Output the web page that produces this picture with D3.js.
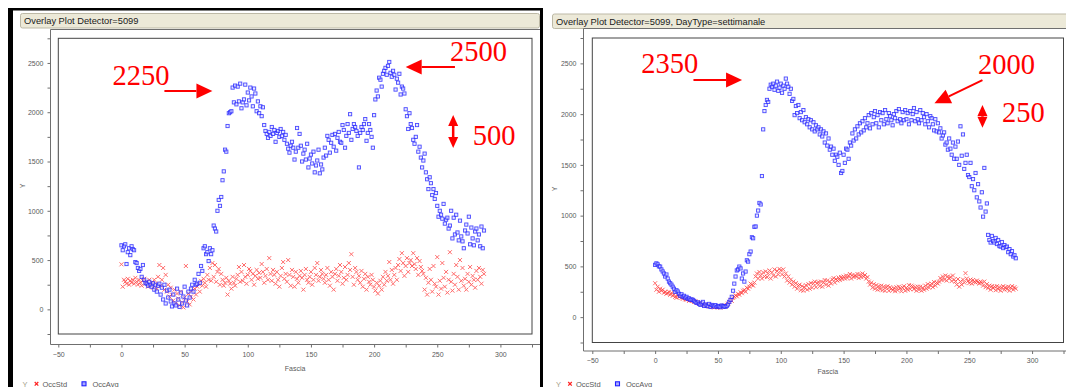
<!DOCTYPE html>
<html>
<head>
<meta charset="utf-8">
<script src="https://cdn.jsdelivr.net/npm/d3@7"></script>
<style>
  body { margin: 0; background: #fff; }
  svg { display: block; }
  text { font-family: "Liberation Sans", Arial, sans-serif; }
  text.note { font-family: "Liberation Serif", "Times New Roman", serif; }
</style>
</head>
<body>
<svg id="chart" width="1066" height="387"></svg>
<script>
// Fascia index (5-minute slots of the day)
const fascia = d3.range(288);

// Detector 5099, all days
const leftOccAvg = [
  650, 600, 640, 660, 460, 580, 620, 550, 640, 610,
  600, 480, 470, 420, 390, 410, 330, 450, 300, 270,
  260, 240, 280, 250, 230, 265, 200, 250, 180, 240,
  260, 150, 220, 100, 250, 60, 190, 120, 200, 80,
  30, 150, 60, 40, 210, 100, 25, 170, 60, 130,
  230, 90, 40, 180, 120, 210, 250, 180, 300, 250,
  260, 360, 270, 440, 390, 620, 640, 560, 580, 490,
  620, 560, 600, 850, 820, 790, 1000, 1110, 1050, 1140,
  1310, 1400, 1620, 1600, 1860, 1990, 2000, 2010, 2250, 2100,
  2270, 2080, 2260, 2110, 2290, 2040, 2100, 2130, 2280, 2070,
  2200, 2120, 2250, 2160, 2060, 2240, 2190, 2010, 2110, 1990,
  2060, 1960, 2050, 1870, 1810, 1780, 1740, 1800, 1760, 1850,
  1780, 1820, 1700, 1790, 1810, 1750, 1830, 1760, 1800, 1720,
  1770, 1680, 1630, 1590, 1660, 1700, 1640, 1520, 1600, 1840,
  1640, 1780, 1660, 1500, 1580, 1620, 1520, 1680, 1440, 1530,
  1570, 1480, 1600, 1390, 1460, 1510, 1620, 1380, 1470, 1420,
  1540, 1640, 1560, 1760, 1720, 1590, 1690, 1770, 1650, 1780,
  1610, 1740, 1800, 1700, 1690, 1870, 1820, 1640, 1760, 1880,
  1790, 1980, 1720, 1830, 1880, 1850, 1810, 1760, 1440, 1790,
  1850, 1820, 1880, 1930, 1710, 1790, 1880, 1820, 1750, 1640,
  1970, 2130, 2220, 2160, 2350, 2330, 2260, 2390, 2420, 2450,
  2380, 2470, 2510, 2400, 2360, 2420, 2380, 2230, 2340, 2300,
  2390, 2180, 2260, 2240, 2190, 2030, 1960, 1830, 1990, 1880,
  1840, 1720, 1680, 1750, 1870, 1600, 1650, 1540, 1440, 1510,
  1580, 1390, 1320, 1220, 1340, 1280, 1160, 1220, 1120, 1180,
  1050, 940, 1000, 960, 920, 1070, 870, 910, 930, 820,
  850, 1000, 720, 930, 760, 960, 780, 700, 900, 740,
  690, 620, 800, 860, 770, 940, 660, 830, 720, 650,
  790, 820, 700, 760, 640, 840, 620, 800
];
const leftOccStd = [
  457, 230, 300, 280, 260, 310, 250, 290, 270, 300,
  260, 320, 280, 250, 300, 270, 240, 290, 310, 260,
  280, 230, 300, 250, 270, 220, 300, 260, 210, 330,
  450, 240, 300, 420, 200, 350, 180, 250, 130, 220,
  150, 90, 200, 60, 160, 110, 40, 180, 70, 20,
  120, 440, 80, 160, 50, 130, 190, 100, 210, 150,
  230, 260, 180, 290, 240, 310, 270, 230, 350, 300,
  420, 290, 470, 330, 450, 280, 380, 410, 250, 360,
  300, 240, 270, 320, 150, 290, 260, 210, 330, 270,
  240, 310, 350, 430, 280, 380, 290, 450, 330, 260,
  350, 410, 390, 300, 360, 250, 340, 400, 310, 370,
  320, 460, 380, 270, 340, 410, 300, 520, 360, 290,
  400, 350, 260, 380, 300, 230, 340, 420, 480, 310,
  360, 280, 500, 350, 240, 400, 330, 230, 380, 310,
  270, 340, 390, 320, 200, 350, 410, 300, 270, 330,
  380, 250, 300, 420, 350, 470, 290, 330, 400, 360,
  310, 270, 350, 420, 300, 240, 380, 330, 200, 360,
  410, 290, 340, 450, 380, 260, 320, 430, 300, 350,
  470, 400, 560, 330, 250, 420, 380, 300, 340, 270,
  390, 230, 310, 360, 200, 330, 280, 250, 350, 300,
  230, 190, 270, 160, 240, 290, 200, 330, 250, 380,
  290, 340, 480, 300, 400, 260, 350, 420, 300, 450,
  510, 390, 570, 470, 340, 440, 520, 380, 470, 500,
  440, 570, 460, 410, 520, 350, 490, 430, 390, 360,
  200, 320, 150, 270, 410, 300, 180, 440, 260, 230,
  530, 150, 290, 210, 470, 320, 230, 380, 170, 300,
  580, 280, 190, 360, 250, 450, 330, 200, 500, 290,
  420, 240, 310, 200, 360, 280, 430, 250, 340, 300,
  220, 390, 300, 420, 330, 260, 400, 360
];

// Detector 5099, DayType=settimanale
const rightOccAvg = [
  515, 530, 520, 500, 498, 470, 450, 430, 400, 420,
  380, 350, 334, 320, 300, 280, 250, 265, 252, 230,
  210, 225, 200, 210, 190, 200, 180, 185, 170, 175,
  170, 160, 150, 140, 145, 130, 120, 135, 150, 110,
  125, 115, 108, 130, 100, 120, 112, 105, 118, 100,
  110, 104, 98, 115, 108, 104, 102, 110, 125, 150,
  170, 200, 260, 330, 400, 460, 470, 498, 480, 380,
  430, 350, 449, 560, 547, 620, 646, 787, 777, 890,
  893, 1000, 1050, 1125, 1110, 1390, 1850, 2030, 2090, 2140,
  2120, 2250, 2290, 2270, 2300, 2240, 2280, 2320, 2230, 2260,
  2300, 2210, 2280, 2250, 2350, 2300, 2270, 2200, 2250, 2130,
  2150, 1990, 2080, 2010, 2090, 1960, 2020, 1940, 2040, 1920,
  1970, 1900, 1950, 1870, 1940, 1850, 1920, 1830, 1890, 1850,
  1870, 1800, 1850, 1780, 1830, 1720, 1810, 1690, 1760, 1650,
  1680, 1600, 1660, 1540, 1600, 1580, 1500, 1620, 1420, 1440,
  1600, 1520, 1660, 1650, 1560, 1720, 1690, 1810, 1740, 1850,
  1760, 1880, 1800, 1910, 1820, 1930, 1840, 1960, 1870, 1910,
  1990, 1860, 2010, 1900, 1970, 2030, 1910, 1990, 1870, 2020,
  1940, 2010, 1900, 2040, 1950, 1910, 2010, 1980, 1940, 1890,
  2000, 1960, 2030, 1930, 2050, 1950, 1910, 2020, 1940, 2040,
  1950, 2010, 1900, 2030, 1940, 2000, 2060, 1930, 2020, 1950,
  1910, 2040, 1940, 2010, 1970, 1900, 2000, 1930, 1870, 1980,
  1960, 1900, 1840, 1950, 1830, 1910, 1820, 1860, 1760, 1790,
  1820, 1700, 1720, 1650, 1760, 1660, 1600, 1720, 1560, 1680,
  1560, 1730, 1500, 1880, 1590, 1800, 1460, 1520, 1600, 1400,
  1380, 1520, 1290, 1360, 1250, 1420, 1180, 1310, 1140, 1080,
  1230, 990, 1470, 1040, 1120, 810, 760, 735, 800, 750,
  735, 780, 720, 760, 700, 695, 740, 680, 710, 690,
  695, 640, 670, 620, 650, 597, 610, 580
];
const rightOccStd = [
  334, 270, 300, 250, 280, 260, 270, 240, 250, 230,
  236, 250, 220, 240, 210, 225, 200, 190, 215, 200,
  203, 190, 180, 195, 175, 170, 185, 160, 170, 165,
  160, 150, 155, 140, 148, 135, 140, 125, 130, 120,
  125, 110, 118, 104, 112, 100, 108, 95, 104, 100,
  98, 104, 92, 110, 100, 115, 105, 120, 135, 150,
  170, 160, 190, 200, 215, 205, 230, 220, 245, 236,
  260, 269, 250, 290, 280, 300, 330, 320, 310, 340,
  400, 430, 380, 445, 410, 380, 440, 400, 450, 395,
  430, 460, 380, 440, 410, 470, 400, 455, 420, 475,
  460, 420, 470, 400, 430, 360, 400, 340, 370, 320,
  350, 300, 335, 280, 310, 320, 265, 305, 260, 290,
  315, 270, 325, 280, 335, 290, 330, 350, 295, 335,
  345, 305, 350, 300, 340, 365, 320, 360, 310, 350,
  330, 370, 385, 340, 375, 360, 390, 365, 395, 375,
  400, 380, 410, 385, 405, 425, 380, 415, 395, 410,
  400, 425, 385, 420, 395, 430, 400, 415, 380, 395,
  350, 320, 340, 290, 325, 280, 315, 270, 305, 275,
  310, 265, 300, 260, 295, 305, 260, 295, 280, 265,
  285, 255, 295, 265, 300, 285, 255, 290, 305, 260,
  290, 270, 315, 275, 310, 300, 275, 295, 260, 300,
  270, 300, 260, 290, 270, 310, 280, 325, 290, 315,
  330, 295, 345, 310, 340, 330, 350, 385, 365, 400,
  370, 410, 360, 400, 380, 395, 355, 410, 370, 350,
  320, 375, 300, 350, 320, 370, 340, 433, 380, 355,
  335, 370, 330, 365, 350, 340, 360, 345, 330, 350,
  340, 310, 350, 295, 325, 285, 310, 270, 305, 285,
  300, 265, 305, 275, 295, 260, 290, 305, 270, 295,
  275, 300, 260, 290, 305, 270, 295, 280
];

const xMajorTicks = [-50, 0, 50, 100, 150, 200, 250, 300];
const xMinorTicks = [-25, 25, 75, 125, 175, 225, 275, 325];
const yMajorTicks = [0, 500, 1000, 1500, 2000, 2500];
const yMinorTicks = [-250, 250, 750, 1250, 1750, 2250, 2750];
const leftTitle = "Overlay Plot Detector=5099";
const rightTitle = "Overlay Plot Detector=5099, DayType=settimanale";

// hand-drawn red notes, anchored in data units
const leftNotes = [
  { text: "2250", x: -7, y: 2276, arrow: [34, 2215, 72, 2215] },
  { text: "2500", x: 260, y: 2522, arrow: [264, 2458, 225, 2458] },
  { text: "500", x: 278, y: 1672, dbl: [262.6, 1972, 1637] }
];
const rightNotes = [
  { text: "2350", x: -11, y: 2402, arrow: [30.5, 2335, 69.2, 2335] },
  { text: "2000", x: 257, y: 2392, arrow: [260.5, 2335, 222.3, 2106] },
  { text: "250", x: 276, y: 1925, dbl: [260.5, 2090, 1866] }
];

const svg = d3.select("#chart");

// black frame round the first screenshot
svg.append("rect").attr("x", 8).attr("y", 8).attr("width", 5).attr("height", 379).attr("fill", "#000");
svg.append("rect").attr("x", 8).attr("y", 8).attr("width", 535).attr("height", 2.5).attr("fill", "#000");
svg.append("rect").attr("x", 540).attr("y", 8).attr("width", 3).attr("height", 379).attr("fill", "#000");

const panels = [
  { id: "l", title: leftTitle, avg: leftOccAvg, std: leftOccStd, notes: leftNotes,
    clip: [13, 10.5, 527, 377], bar: [20.5, 13.5, 519, 14.5], titleY: 24,
    frameX: 50.5, frameY: 29.5, axisY: 344.5,
    plot: [58.3, 532, 38.3, 334], yLab: [23, 186], xLabY: 371, legX: 22.5, legY: 386.5 },
  { id: "r", title: rightTitle, avg: rightOccAvg, std: rightOccStd, notes: rightNotes,
    clip: [545, 0, 521, 387], bar: [552.5, 14, 520, 14.5], titleY: 24.5,
    frameX: 583.5, frameY: 28.5, axisY: 351,
    plot: [592.3, 1063.5, 38, 342.5], yLab: [555, 189], xLabY: 374, legX: 556, legY: 386.5 }
];

const defs = svg.append("defs");

panels.forEach(p => {
  defs.append("clipPath").attr("id", "clip-" + p.id)
    .append("rect").attr("x", p.clip[0]).attr("y", p.clip[1]).attr("width", p.clip[2]).attr("height", p.clip[3]);

  const g = svg.append("g").attr("clip-path", "url(#clip-" + p.id + ")");

  const x = d3.scaleLinear().domain([-50, 325]).range([p.plot[0], p.plot[1]]);
  const y = d3.scaleLinear().domain([-250, 2750]).range([p.plot[3], p.plot[2]]);

  // title bar
  g.append("rect")
    .attr("x", p.bar[0]).attr("y", p.bar[1]).attr("width", p.bar[2]).attr("height", p.bar[3])
    .attr("rx", 2).attr("fill", "#ece9d8").attr("stroke", "#bdb9a6");
  g.append("text").attr("x", p.bar[0] + 3.5).attr("y", p.titleY)
    .attr("font-size", 9.3).attr("fill", "#1a1a1a").text(p.title);

  // outer axis frame
  g.append("path")
    .attr("d", `M${p.frameX},${p.axisY}V${p.frameY}H${p.clip[0] + p.clip[2] + 5}M${p.frameX},${p.axisY}H${p.clip[0] + p.clip[2] + 5}`)
    .attr("fill", "none").attr("stroke", "#6f6f6f");

  // inner plot box
  g.append("rect")
    .attr("x", p.plot[0]).attr("y", p.plot[2])
    .attr("width", p.plot[1] - p.plot[0]).attr("height", p.plot[3] - p.plot[2])
    .attr("fill", "#fff").attr("stroke", "#444");

  // axes
  const fmt = d3.format("d");
  g.append("g").attr("transform", `translate(${p.frameX},0)`)
    .call(d3.axisLeft(y).tickValues(yMajorTicks).tickFormat(fmt).tickSize(3).tickPadding(4));
  g.append("g").attr("transform", `translate(${p.frameX},0)`)
    .call(d3.axisLeft(y).tickValues(yMinorTicks).tickSize(3).tickFormat(""));
  g.append("g").attr("transform", `translate(0,${p.axisY})`)
    .call(d3.axisBottom(x).tickValues(xMajorTicks).tickFormat(fmt).tickSize(3).tickPadding(4.5));
  g.append("g").attr("transform", `translate(0,${p.axisY})`)
    .call(d3.axisBottom(x).tickValues(xMinorTicks).tickSize(3).tickFormat(""));
  g.selectAll(".domain").remove();
  g.selectAll(".tick line").attr("stroke", "#6f6f6f");
  g.selectAll(".tick text").attr("font-size", 7).attr("fill", "#5a5a5a");

  g.append("text").attr("transform", `translate(${p.yLab[0]},${p.yLab[1]}) rotate(-90)`)
    .attr("text-anchor", "middle").attr("dy", "0.35em")
    .attr("font-size", 7).attr("fill", "#5a5a5a").text("Y");
  g.append("text").attr("x", (p.plot[0] + p.plot[1]) / 2).attr("y", p.xLabY)
    .attr("text-anchor", "middle").attr("font-size", 7).attr("fill", "#5a5a5a").text("Fascia");

  // OccStd crosses
  const cross = "M-2,-2L2,2M-2,2L2,-2";
  g.append("g").selectAll("path").data(p.std).join("path")
    .attr("transform", (d, i) => `translate(${x(fascia[i])},${y(d)})`)
    .attr("d", cross).attr("stroke", "#ff3b3b").attr("stroke-width", 1).attr("opacity", 0.75);

  // OccAvg squares
  g.append("g").selectAll("rect").data(p.avg).join("rect")
    .attr("x", (d, i) => x(fascia[i]) - 1.6).attr("y", d => y(d) - 1.6)
    .attr("width", 3.2).attr("height", 3.2)
    .attr("fill", "#d6d6ff").attr("fill-opacity", 0.6)
    .attr("stroke", "#2a2aff").attr("stroke-width", 0.9).attr("opacity", 0.85);

  // legend
  const lg = g.append("g").attr("transform", `translate(${p.legX},${p.legY})`);
  lg.append("text").attr("x", 0).attr("font-size", 7.5).attr("fill", "#a3a08a").text("Y");
  lg.append("path").attr("transform", "translate(14,-2.7)").attr("d", "M-1.8,-1.8L1.8,1.8M-1.8,1.8L1.8,-1.8")
    .attr("stroke", "#ff2020").attr("stroke-width", 1.2);
  lg.append("text").attr("x", 20).attr("font-size", 7.5).attr("fill", "#5a5a5a").text("OccStd");
  lg.append("rect").attr("x", 59.5).attr("y", -4.7).attr("width", 4).attr("height", 4)
    .attr("fill", "#aaaaff").attr("stroke", "#2020ff").attr("stroke-width", 1.1);
  lg.append("text").attr("x", 70).attr("font-size", 7.5).attr("fill", "#5a5a5a").text("OccAvg");

  // red notes
  const red = "#ff0000";
  p.notes.forEach(n => {
    g.append("text").attr("class", "note").attr("x", x(n.x)).attr("y", y(n.y))
      .attr("font-size", 28.5).attr("fill", red).text(n.text);
    if (n.arrow) {
      const [x1, y1, x2, y2] = [x(n.arrow[0]), y(n.arrow[1]), x(n.arrow[2]), y(n.arrow[3])];
      const ang = Math.atan2(y2 - y1, x2 - x1);
      const len = 16, half = 7.5;
      const bx = x2 - len * Math.cos(ang), by = y2 - len * Math.sin(ang);
      g.append("line").attr("x1", x1).attr("y1", y1).attr("x2", bx).attr("y2", by)
        .attr("stroke", red).attr("stroke-width", 2);
      g.append("path")
        .attr("d", `M${x2},${y2}L${bx - half * Math.sin(ang)},${by + half * Math.cos(ang)}L${bx + half * Math.sin(ang)},${by - half * Math.cos(ang)}Z`)
        .attr("fill", red);
    }
    if (n.dbl) {
      const cx = x(n.dbl[0]), ya = y(n.dbl[1]), yb = y(n.dbl[2]);
      const len = 11, half = 5;
      g.append("line").attr("x1", cx).attr("y1", ya + len).attr("x2", cx).attr("y2", yb - len)
        .attr("stroke", red).attr("stroke-width", 2.5);
      g.append("path").attr("d", `M${cx},${ya}L${cx - half},${ya + len}L${cx + half},${ya + len}Z`).attr("fill", red);
      g.append("path").attr("d", `M${cx},${yb}L${cx - half},${yb - len}L${cx + half},${yb - len}Z`).attr("fill", red);
    }
  });
});
</script>
</body>
</html>
